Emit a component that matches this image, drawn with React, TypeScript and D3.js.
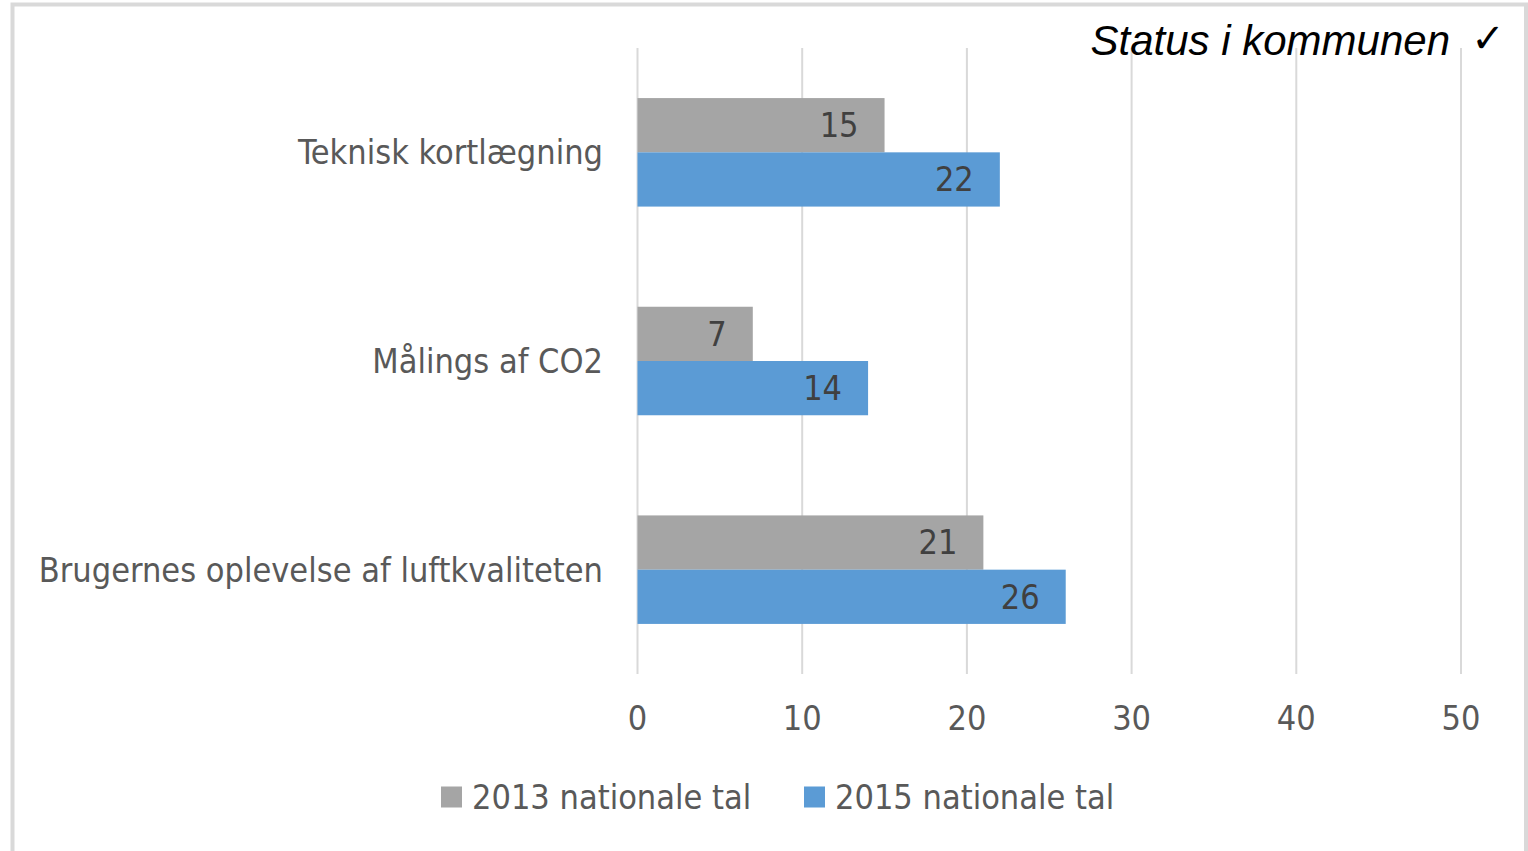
import React from 'react';
import * as d3 from 'd3';

const categories = ['Teknisk kortlægning', 'Målings af CO2', 'Brugernes oplevelse af luftkvaliteten'];
const seriesNames = ['2013 nationale tal', '2015 nationale tal'];
const values2013 = [15, 7, 21];
const values2015 = [22, 14, 26];
const xTicks = [0, 10, 20, 30, 40, 50];
const colors = ['#a5a5a5', '#5b9bd5'];

const W = 1528;
const H = 851;
const margin = { top: 48, bottom: 177, left: 637.5, right: 67 };
const font = '"DejaVu Sans Condensed", "Liberation Sans Narrow", sans-serif';

const App: React.FC = () => {
  const x = d3.scaleLinear().domain([0, 50]).range([margin.left, W - margin.right]);
  const y = d3.scaleBand<string>()
    .domain(categories)
    .range([margin.top, H - margin.bottom])
    .paddingInner(0.48)
    .paddingOuter(0.24);
  const sub = d3.scaleBand<number>().domain([0, 1]).range([0, y.bandwidth()]);
  const series = [values2013, values2015];

  return (
    <svg width={W} height={H} style={{ position: 'absolute', left: 0, top: 0 }}>
      <rect x={0} y={0} width={W} height={H} fill="#fff" />
      <rect x={12.5} y={4.5} width={1513.5} height={900} fill="none" stroke="#d9d9d9" strokeWidth={4} />

      {/* gridlines */}
      {xTicks.map(t => (
        <line key={t} x1={x(t)} x2={x(t)} y1={margin.top} y2={H - margin.bottom}
          stroke="#d9d9d9" strokeWidth={2} />
      ))}

      {/* bars */}
      {categories.map((c, i) => (
        <g key={c} transform={`translate(0,${y(c)})`}>
          {series.map((vals, s) => (
            <g key={s}>
              <rect x={x(0)} y={sub(s)} width={x(vals[i]) - x(0)} height={sub.bandwidth()}
                fill={colors[s]} />
              <text x={x(vals[i]) - 26} y={(sub(s) ?? 0) + sub.bandwidth() / 2} dy="0.35em"
                textAnchor="end" fontFamily={font} fontSize={34} fill="#404040">{vals[i]}</text>
            </g>
          ))}
          <text x={603} y={y.bandwidth() / 2} dy="0.35em" textAnchor="end"
            fontFamily={font} fontSize={34} fill="#595959">{c}</text>
        </g>
      ))}

      {/* x tick labels */}
      {xTicks.map(t => (
        <text key={t} x={x(t)} y={718} dy="0.35em" textAnchor="middle"
          fontFamily={font} fontSize={34} fill="#595959">{t}</text>
      ))}

      {/* legend */}
      {seriesNames.map((n, i) => {
        const lx = [441, 804][i];
        return (
          <g key={n} transform={`translate(${lx},797)`}>
            <rect x={0} y={-10.5} width={21} height={21} fill={colors[i]} />
            <text x={31} y={0} dy="0.35em" fontFamily={font} fontSize={34} fill="#595959">{n}</text>
          </g>
        );
      })}

      {/* title */}
      <text x={1450} y={55} textAnchor="end" fontFamily='"Liberation Sans", Arial, sans-serif'
        fontStyle="italic" fontSize={42} fill="#000">Status i kommunen</text>
      <text x={1488} y={52} textAnchor="middle" fontFamily='"DejaVu Sans", sans-serif'
        fontSize={40} fill="#000">✓</text>
    </svg>
  );
};

export default App;
